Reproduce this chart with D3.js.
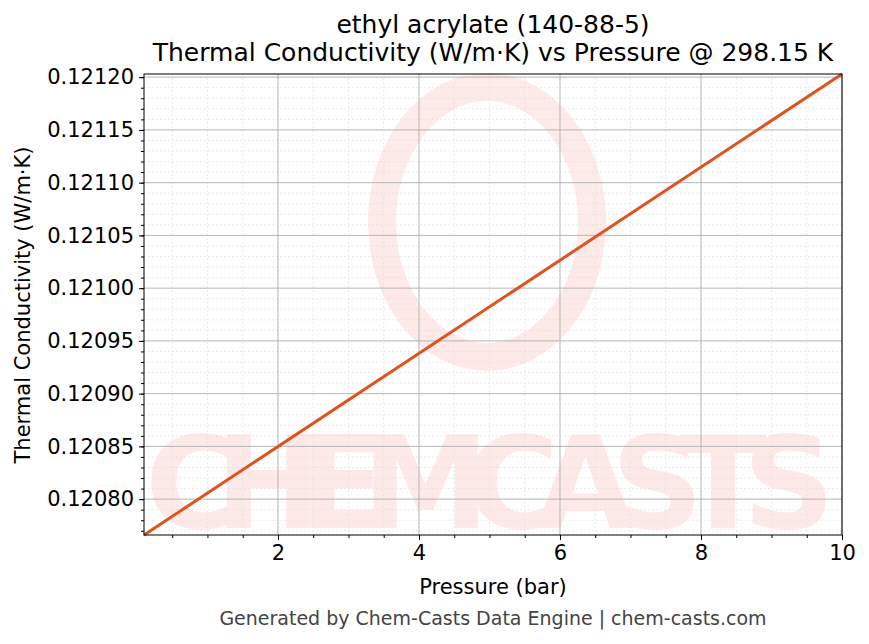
<!DOCTYPE html>
<html><head><meta charset="utf-8">
<script src="https://cdn.jsdelivr.net/npm/d3@7"></script>
<style>body{margin:0;background:#fff}text{font-family:"DejaVu Sans",sans-serif}</style>
</head><body>
<svg id="chart" width="869" height="644"></svg>
<script>
// data: pressure (bar) vs thermal conductivity (W/m·K)
const pressure = [0.1, 10];
const conductivity = [0.120766, 0.121203];
const xTicks = [2, 4, 6, 8, 10];
const yTicks = [0.12080, 0.12085, 0.12090, 0.12095, 0.12100, 0.12105, 0.12110, 0.12115, 0.12120];

const svg = d3.select("#chart");
const m = {left: 144, right: 842, top: 74, bottom: 535};

const x = d3.scaleLinear().domain([0.1, 10]).range([m.left, m.right]);
const y = d3.scaleLinear().domain([0.120766, 0.121203]).range([m.bottom, m.top]);

// watermark
const wm = svg.append("g").attr("opacity", 0.1).attr("fill", "#f03c28");
wm.append("ellipse").attr("cx", 487).attr("cy", 222).attr("rx", 105).attr("ry", 135)
  .attr("fill", "none").attr("stroke", "#f03c28").attr("stroke-width", 28);
wm.append("text").attr("x", 490).attr("y", 528).attr("text-anchor", "middle")
  .attr("font-size", 128).attr("font-weight", "bold").attr("textLength", 690)
  .text("CHEMCASTS");

// minor grid
const xMinor = d3.range(0.5, 10, 0.5);
const yMinor = d3.range(0.12077, 0.121205, 0.00001);
const grid = svg.append("g");
grid.selectAll(".xm").data(xMinor).join("line")
  .attr("x1", d => x(d)).attr("x2", d => x(d)).attr("y1", m.top).attr("y2", m.bottom)
  .attr("stroke", "#ddd").attr("stroke-width", 0.6).attr("stroke-dasharray", "2,2");
grid.selectAll(".ym").data(yMinor).join("line")
  .attr("y1", d => y(d)).attr("y2", d => y(d)).attr("x1", m.left).attr("x2", m.right)
  .attr("stroke", "#ddd").attr("stroke-width", 0.6).attr("stroke-dasharray", "2,2");
// major grid
grid.selectAll(".xg").data(xTicks).join("line")
  .attr("x1", d => x(d)).attr("x2", d => x(d)).attr("y1", m.top).attr("y2", m.bottom)
  .attr("stroke", "#aaa").attr("stroke-width", 0.8);
grid.selectAll(".yg").data(yTicks).join("line")
  .attr("y1", d => y(d)).attr("y2", d => y(d)).attr("x1", m.left).attr("x2", m.right)
  .attr("stroke", "#aaa").attr("stroke-width", 0.8);

// line
svg.append("path")
  .datum(pressure.map((p, i) => [p, conductivity[i]]))
  .attr("d", d3.line().x(d => x(d[0])).y(d => y(d[1])))
  .attr("fill", "none").attr("stroke", "#e0521e").attr("stroke-width", 3);

// frame
svg.append("rect").attr("x", m.left).attr("y", m.top)
  .attr("width", m.right - m.left).attr("height", m.bottom - m.top)
  .attr("fill", "none").attr("stroke", "#000").attr("stroke-width", 1);

// axes
svg.append("g").attr("transform", `translate(0,${m.bottom})`)
  .call(d3.axisBottom(x).tickValues(xMinor.filter(d => !xTicks.includes(d))).tickSize(3))
  .selectAll("text").remove();
svg.append("g").attr("transform", `translate(${m.left},0)`)
  .call(d3.axisLeft(y).tickValues(yMinor).tickSize(3))
  .selectAll("text").remove();
svg.append("g").attr("class", "maj").attr("transform", `translate(0,${m.bottom})`)
  .call(d3.axisBottom(x).tickValues(xTicks).tickSize(5).tickPadding(5).tickFormat(d3.format("d")));
svg.append("g").attr("class", "maj").attr("transform", `translate(${m.left},0)`)
  .call(d3.axisLeft(y).tickValues(yTicks).tickSize(5).tickPadding(5).tickFormat(d3.format(".5f")));
svg.selectAll(".domain").remove();
svg.selectAll(".maj .tick text").attr("font-size", 21).attr("fill", "#000").style("font-family", "DejaVu Sans");

// labels
svg.append("text").attr("x", 493).attr("y", 33).attr("text-anchor", "middle").attr("font-size", 25)
  .text("ethyl acrylate (140-88-5)");
svg.append("text").attr("x", 493).attr("y", 61).attr("text-anchor", "middle").attr("font-size", 25)
  .text("Thermal Conductivity (W/m·K) vs Pressure @ 298.15 K");
svg.append("text").attr("x", 493).attr("y", 594).attr("text-anchor", "middle").attr("font-size", 21)
  .text("Pressure (bar)");
svg.append("text").attr("transform", "translate(30,305) rotate(-90)").attr("text-anchor", "middle")
  .attr("font-size", 21).text("Thermal Conductivity (W/m·K)");
svg.append("text").attr("x", 493).attr("y", 625).attr("text-anchor", "middle").attr("font-size", 19)
  .attr("fill", "#444").text("Generated by Chem-Casts Data Engine | chem-casts.com");
</script>
</body></html>
